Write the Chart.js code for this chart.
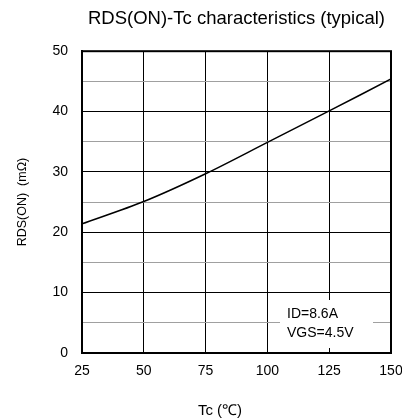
<!DOCTYPE html>
<html>
<head>
<meta charset="utf-8">
<script src="https://cdn.jsdelivr.net/npm/chart.js@4"></script>
<style>
  html, body { margin: 0; padding: 0; background: #fff; }
  #wrap { width: 402px; height: 420px; }
</style>
</head>
<body>
<div id="wrap"><canvas id="chart" width="402" height="420"></canvas></div>
<script>
// values
const tempC = [25, 50, 75, 100, 125, 150];
const rdsOn = [21.4, 25.1, 29.7, 34.9, 40.1, 45.4];
const xTicks = [25, 50, 75, 100, 125, 150];
const yRange = [0, 50];
const noteLines = ['ID=8.6A', 'VGS=4.5V'];

const FONT = '"Liberation Sans", Arial, sans-serif';

// frame, condition note and x title
const extras = {
  id: 'extras',
  afterDatasetsDraw(chart) {
    const { ctx, chartArea: a } = chart;
    ctx.save();
    // condition box covers the grid under it
    ctx.fillStyle = '#fff';
    ctx.fillRect(280, 300, 93, 48);
    ctx.fillStyle = '#000';
    ctx.font = '14px ' + FONT;
    ctx.textBaseline = 'middle';
    ctx.textAlign = 'left';
    noteLines.forEach((t, i) => ctx.fillText(t, 287, 314 + i * 19));
    // outer frame
    ctx.strokeStyle = '#000';
    ctx.lineWidth = 2;
    ctx.strokeRect(a.left, a.top, a.right - a.left, a.bottom - a.top);
    // x axis title
    ctx.font = '15px ' + FONT;
    ctx.textAlign = 'center';
    ctx.fillText('Tc (℃)', 220, 411);
    ctx.restore();
  },
};

new Chart(document.getElementById('chart'), {
  type: 'line',
  data: {
    datasets: [
      {
        data: tempC.map((t, i) => ({ x: t, y: rdsOn[i] })),
        borderColor: '#000',
        borderWidth: 1.5,
        pointRadius: 0,
        tension: 0.3,
        fill: false,
      },
    ],
  },
  options: {
    responsive: false,
    animation: false,
    layout: { padding: { left: 0, right: 11, top: 0, bottom: 0 } },
    plugins: {
      legend: { display: false },
      tooltip: { enabled: false },
      title: {
        display: true,
        fullSize: false,
        text: 'RDS(ON)-Tc characteristics (typical)',
        color: '#000',
        font: { family: FONT, size: 18.5, weight: 'normal' },
        padding: { top: 8, bottom: 21 },
      },
    },
    scales: {
      x: {
        type: 'linear',
        min: xTicks[0],
        max: xTicks[xTicks.length - 1],
        afterBuildTicks: (scale) => {
          scale.ticks = xTicks.map((v) => ({ value: v }));
        },
        afterFit: (scale) => {
          scale.height = 67;
          scale.paddingRight = 0;
        },
        grid: { color: '#000', lineWidth: 1, drawTicks: false },
        border: { color: '#000', width: 2 },
        ticks: {
          color: '#000',
          padding: 10,
          maxRotation: 0,
          font: { family: FONT, size: 14 },
        },
      },
      y: {
        min: yRange[0],
        max: yRange[1],
        afterFit: (scale) => {
          scale.width = 82;
        },
        grid: {
          color: (c) => (c.tick && c.tick.value % 10 === 0 ? '#000' : '#a0a0a0'),
          lineWidth: 1,
          drawTicks: false,
        },
        border: { color: '#000', width: 2 },
        ticks: {
          stepSize: 5,
          color: '#000',
          padding: 14,
          font: { family: FONT, size: 14 },
          callback: (v) => (v % 10 === 0 ? v : ''),
        },
        title: {
          display: true,
          text: 'RDS(ON)  (mΩ)',
          color: '#000',
          font: { family: FONT, size: 12.5 },
          padding: { top: 15, bottom: 0 },
        },
      },
    },
  },
  plugins: [extras],
});
</script>
</body>
</html>
